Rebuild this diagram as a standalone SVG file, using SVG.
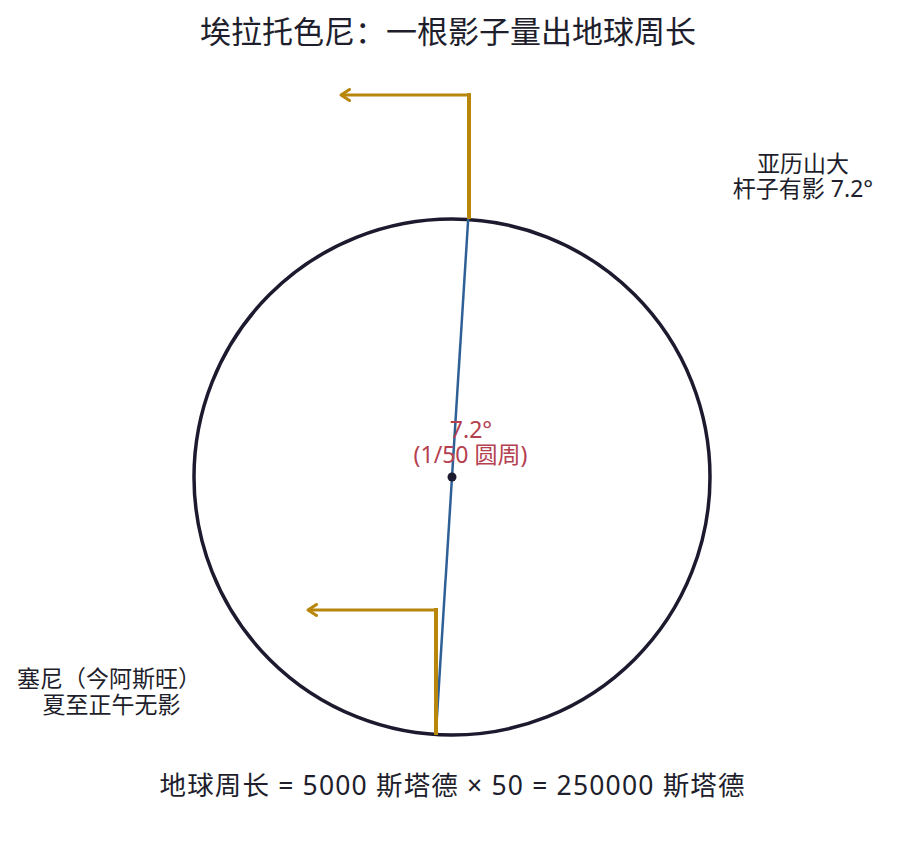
<svg xmlns="http://www.w3.org/2000/svg" width="901" height="864" viewBox="0 0 901 864">
<defs>
<style>
.t{font-family:"Noto Sans","Noto Sans CJK SC",sans-serif;fill:#1e1e2c;text-anchor:middle}
.lbl{font-size:23px}
.red{font-family:"Noto Sans","Noto Sans CJK SC",sans-serif;fill:#b5404f;text-anchor:middle;font-size:23px}
.gold{stroke:#b8860b;fill:none;stroke-linecap:butt}
</style>
<marker id="ah" viewBox="0 0 12 14" refX="10" refY="7" markerWidth="12" markerHeight="14" markerUnits="userSpaceOnUse" orient="auto">
<path d="M1.5,1.5 L10,7 L1.5,12.5" fill="none" stroke="#b8860b" stroke-width="3" stroke-linecap="round" stroke-linejoin="round"/>
</marker>
</defs>
<rect width="901" height="864" fill="#ffffff"/>
<text class="t" x="448" y="43" font-size="31">埃拉托色尼：一根影子量出地球周长</text>
<g id="earth">
<circle cx="452" cy="477" r="258" fill="none" stroke="#1c1a2e" stroke-width="3.5"/>
</g>
<g id="connectors">
<line x1="468.2" y1="219" x2="435.8" y2="735" stroke="#2e6096" stroke-width="2.5"/>
<line class="gold" x1="469" y1="93" x2="469" y2="219" stroke-width="4"/>
<line class="gold" x1="467" y1="95" x2="341" y2="95" stroke-width="3" marker-end="url(#ah)"/>
<line class="gold" x1="436" y1="608" x2="436" y2="735" stroke-width="4"/>
<line class="gold" x1="434" y1="610" x2="308" y2="610" stroke-width="3" marker-end="url(#ah)"/>
</g>
<g id="center">
<circle cx="452" cy="477" r="4.5" fill="#1c1a2e"/>
<text class="red" x="471" y="438">7.2°</text>
<text class="red" x="470.5" y="463">(1/50 圆周)</text>
</g>
<g id="alexandria">
<text class="t lbl" x="803" y="172">亚历山大</text>
<text class="t lbl" x="803" y="197">杆子有影 7.2°</text>
</g>
<g id="syene">
<text class="t lbl" x="109" y="687">塞尼（今阿斯旺）</text>
<text class="t lbl" x="111.5" y="713">夏至正午无影</text>
</g>
<g id="formula">
<text class="t" x="452" y="795" font-size="26.5" textLength="585" lengthAdjust="spacing">地球周长 = 5000 斯塔德 × 50 = 250000 斯塔德</text>
</g>
</svg>
